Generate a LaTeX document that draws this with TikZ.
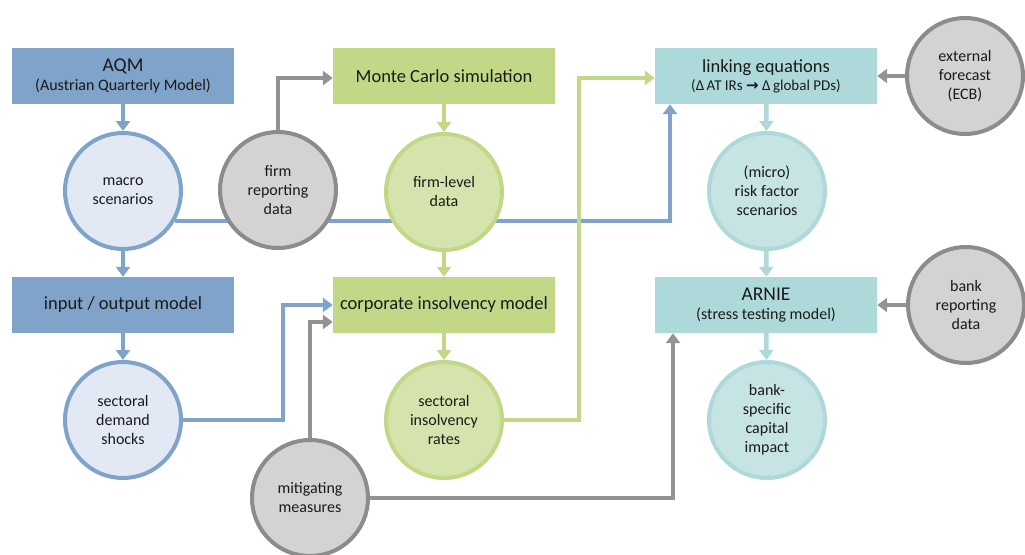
\documentclass[tikz,border=0pt]{standalone}
\usepackage{fontspec}
\setmainfont{Carlito}
\newfontfamily\arrowfont{DejaVu Sans}
\usetikzlibrary{arrows.meta,positioning,backgrounds}

\definecolor{qblue}{HTML}{7FA3C9}
\definecolor{qbluelt}{HTML}{E2E9F5}
\definecolor{qgreen}{HTML}{C3D887}
\definecolor{qgreenlt}{HTML}{D5E4AC}
\definecolor{qteal}{HTML}{ADD9DA}
\definecolor{qteallt}{HTML}{C6E4E4}
\definecolor{qgray}{HTML}{8C8C8C}
\definecolor{qgraylt}{HTML}{D3D3D3}
\definecolor{qgrayarr}{HTML}{939393}
\definecolor{txt}{HTML}{1A1A1A}

\begin{document}
\begin{tikzpicture}[x=1pt,y=-1pt,
    block/.style ={rectangle, minimum width=222pt, minimum height=56pt,
        inner sep=2pt, align=center, text=txt, font=\fontsize{18.5}{21}\selectfont},
    block_blue/.style ={block, fill=qblue},
    block_green/.style ={block, fill=qgreen},
    block_teal/.style ={block, fill=qteal},
    bubble/.style ={circle, line width=4pt, minimum size=116pt, inner sep=0pt,
        align=center, text=txt, font=\fontsize{16}{19}\selectfont},
    bubble_blue/.style ={bubble, draw=qblue, fill=qbluelt},
    bubble_green/.style ={bubble, draw=qgreen, fill=qgreenlt},
    bubble_teal/.style ={bubble, draw=qteal, fill=qteallt},
    bubble_gray/.style ={bubble, draw=qgray, fill=qgraylt},
    line/.style ={draw, line width=4.5pt, -{Triangle[length=10pt,width=14pt]}}]

    \useasboundingbox (0,0) rectangle (1025,554);
    \begin{scope}[on background layer]
        \fill[white] (0,0) rectangle (1025,554);
    \end{scope}

    % models - row 1
    \node [block_blue] (aqm) at (123,76) {{\fontsize{19.5}{20}\selectfont AQM}\\[-2pt]
        {\fontsize{16}{18}\selectfont (Austrian Quarterly Model)}};
    \node [block_green] (mc) at (444,76) {Monte Carlo simulation};
    \node [block_teal] (link) at (766,76) {linking equations\\[-3pt]
        {\fontsize{15}{16}\selectfont (Δ\,AT IRs {\arrowfont\bfseries →} Δ\,global PDs)}};
    % data - row 2
    \node [bubble_blue] (macro) at (123,191) {macro\\scenarios};
    \node [bubble_gray] (firm) at (278,190) {firm\\reporting\\data};
    \node [bubble_green] (firmlvl) at (444,192) {firm-level\\data};
    \node [bubble_teal] (micro) at (767,191) {(micro)\\risk factor\\scenarios};
    \node [bubble_gray] (ext) at (965,76) {external\\forecast\\(ECB)};
    % models - row 3
    \node [block_blue] (io) at (123,305) {input / output model};
    \node [block_green] (cim) at (444,305) {corporate insolvency model};
    \node [block_teal] (arnie) at (766,305) {{\fontsize{19.5}{20}\selectfont ARNIE}\\[-2pt]
        {\fontsize{16}{18}\selectfont (stress testing model)}};
    \node [bubble_gray] (bankrep) at (966,305) {bank\\reporting\\data};
    % data - row 4
    \node [bubble_blue] (sdem) at (123,420) {sectoral\\demand\\shocks};
    \node [bubble_green] (sins) at (444,420) {sectoral\\insolvency\\rates};
    \node [bubble_teal] (bankspec) at (767,420) {bank-\\specific\\capital\\impact};
    \node [bubble_gray] (mitig) at (310,498) {mitigating\\measures};

    % connecting nodes with paths
    \begin{scope}[every path/.style=line]
        % blue paths
        \path [qblue] (aqm) -- (macro);
        \path [qblue] (macro) -- (io);
        \path [qblue] (io) -- (sdem);
        \path [qblue] (sdem.east) -- ++(100,0) |- (cim.west);
        % green paths
        \path [qgreen] (mc) -- (firmlvl);
        \path [qgreen] (firmlvl) -- (cim);
        \path [qgreen] (cim) -- (sins);
        \path [qgreen] (sins.east) -- ++(75,0) |- ([yshift=-2pt]link.west);
        % teal paths
        \path [qteal] (link) -- (micro);
        \path [qteal] (micro) -- (arnie);
        \path [qteal] (arnie) -- (bankspec);
        % gray paths
        \path [qgrayarr] (firm.north) |- ([yshift=-2pt]mc.west);
        \path [qgrayarr] (ext) -- (link);
        \path [qgrayarr] (bankrep) -- (arnie);
        \path [qgrayarr] (mitig.north) |- ([yshift=-17pt]cim.west);
        \path [qgrayarr] (mitig.east) -| ([xshift=-93pt]arnie.south);
    \end{scope}
    \begin{scope}[on background layer, every path/.style=line]
        \path [qblue] (macro.-30) -| ([xshift=-96pt]link.south);
    \end{scope}
\end{tikzpicture}
\end{document}
